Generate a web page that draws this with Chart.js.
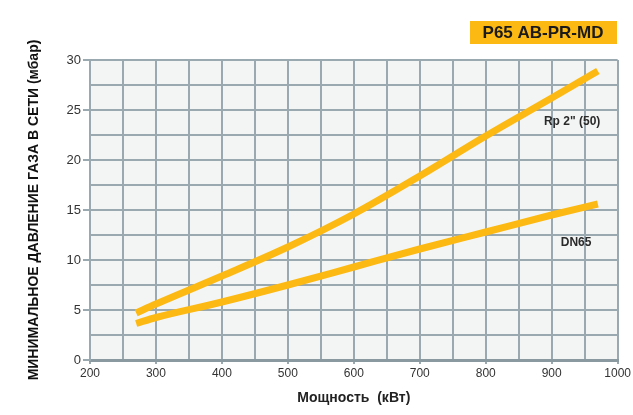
<!DOCTYPE html>
<html>
<head>
<meta charset="utf-8">
<script src="https://cdn.jsdelivr.net/npm/chart.js@4/dist/chart.umd.min.js"></script>
<style>
  html, body { margin: 0; padding: 0; background: #fff; }
  #wrap { width: 633px; height: 415px; }
</style>
</head>
<body>
<div id="wrap"><canvas id="chart" width="633" height="415"></canvas></div>
<script>
// power, kW
const powerRp = [270, 300, 400, 500, 600, 700, 800, 900, 970];
const pressureRp = [4.7, 5.6, 8.4, 11.3, 14.6, 18.4, 22.4, 26.2, 28.9];
const powerDN = [270, 300, 400, 500, 600, 700, 800, 900, 970];
const pressureDN = [3.65, 4.25, 5.8, 7.5, 9.3, 11.1, 12.8, 14.5, 15.6];
const seriesNames = ["Rp 2\" (50)", "DN65"];
const labelPos = [[931, 23.85], [937, 11.7]]; // where series names sit, data units
const chartTitle = "P65 AB-PR-MD";

const yellow = "#fdb913";
const gridColor = "#9aa8b0";
const fontFam = "'Liberation Sans', Arial, sans-serif";

const decor = {
  id: "decor",
  beforeDraw(chart) {
    const { ctx, chartArea: a } = chart;
    ctx.save();
    ctx.fillStyle = "#f3f5f4";
    ctx.fillRect(a.left, a.top, a.right - a.left, a.bottom - a.top);
    // title box
    ctx.fillStyle = yellow;
    ctx.fillRect(470, 21, 147, 23);
    ctx.fillStyle = "#1a1a1a";
    ctx.font = "bold 17px " + fontFam;
    ctx.textAlign = "center";
    ctx.textBaseline = "middle";
    ctx.fillText(chartTitle, 543, 33);
    ctx.restore();
  },
  afterDatasetsDraw(chart) {
    const { ctx, scales: { x, y } } = chart;
    ctx.save();
    ctx.fillStyle = "#2a2a2a";
    ctx.font = "bold 12px " + fontFam;
    ctx.textAlign = "center";
    ctx.textBaseline = "middle";
    seriesNames.forEach((n, i) => {
      ctx.fillText(n, x.getPixelForValue(labelPos[i][0]), y.getPixelForValue(labelPos[i][1]));
    });
    ctx.restore();
  }
};

new Chart(document.getElementById("chart"), {
  type: "line",
  data: {
    datasets: [
      {
        label: seriesNames[0],
        data: powerRp.map((p, i) => ({ x: p, y: pressureRp[i] })),
        borderColor: yellow,
        borderWidth: 7,
        pointRadius: 0,
        cubicInterpolationMode: "monotone",
        borderCapStyle: "butt",
      },
      {
        label: seriesNames[1],
        data: powerDN.map((p, i) => ({ x: p, y: pressureDN[i] })),
        borderColor: yellow,
        borderWidth: 7,
        pointRadius: 0,
        cubicInterpolationMode: "monotone",
        borderCapStyle: "butt",
      },
    ],
  },
  options: {
    responsive: false,
    animation: false,
    layout: { padding: { top: 60, right: 14, left: 0, bottom: 0 } },
    plugins: {
      legend: { display: false },
      tooltip: { enabled: false },
    },
    scales: {
      x: {
        type: "linear",
        min: 200,
        max: 1000,
        ticks: {
          stepSize: 50,
          autoSkip: false,
          maxRotation: 0,
          padding: 2,
          color: "#333",
          font: { family: fontFam, size: 12 },
          callback: (v) => (v % 100 === 0 ? v : ""),
        },
        grid: {
          color: gridColor,
          lineWidth: 2,
          tickLength: 4,
          tickColor: (c) => (c.tick && c.tick.value % 100 === 0 ? gridColor : "transparent"),
        },
        border: { color: "#8a989f", width: 3 },
        title: {
          display: true,
          text: "Мощность  (кВт)",
          color: "#222",
          font: { family: fontFam, size: 14, weight: "bold" },
          padding: { top: 8, bottom: 8 },
        },
        afterFit: (s) => { s.height = 55; },
      },
      y: {
        min: 0,
        max: 30,
        ticks: {
          stepSize: 2.5,
          autoSkip: false,
          padding: 2,
          color: "#333",
          font: { family: fontFam, size: 13 },
          callback: (v) => (v % 5 === 0 ? v : ""),
        },
        grid: {
          color: gridColor,
          lineWidth: 2,
          tickLength: 7,
          tickColor: (c) => (c.tick && c.tick.value % 5 === 0 ? gridColor : "transparent"),
        },
        border: { color: gridColor, width: 2 },
        title: {
          display: true,
          text: "МИНИМАЛЬНОЕ ДАВЛЕНИЕ ГАЗА В СЕТИ (мбар)",
          color: "#111",
          font: { family: fontFam, size: 14, weight: "bold" },
          padding: { top: 26, bottom: 8 },
        },
        afterFit: (s) => { s.width = 90; },
      },
    },
  },
  plugins: [decor],
});
</script>
</body>
</html>
